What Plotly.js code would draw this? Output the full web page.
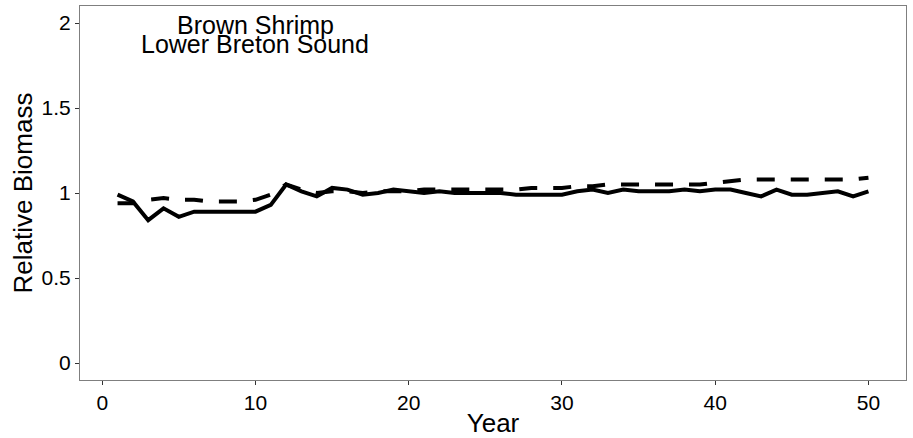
<!DOCTYPE html>
<html>
<head>
<meta charset="utf-8">
<script src="https://cdn.plot.ly/plotly-3.0.1.min.js"></script>
<style>html,body{margin:0;padding:0;background:#fff;}#chart{width:913px;height:438px;}</style>
</head>
<body>
<div id="chart"></div>
<script>
const years = Array.from({length: 50}, (_, i) => i + 1);
const solidValues = [0.99,0.95,0.84,0.91,0.86,0.89,0.89,0.89,0.89,0.89,
  0.93,1.05,1.01,0.98,1.03,1.02,0.99,1.00,1.02,1.01,
  1.00,1.01,1.00,1.00,1.00,1.00,0.99,0.99,0.99,0.99,
  1.01,1.02,1.00,1.02,1.01,1.01,1.01,1.02,1.01,1.02,
  1.02,1.00,0.98,1.02,0.99,0.99,1.00,1.01,0.98,1.01];
const dashedValues = [0.94,0.94,0.96,0.97,0.96,0.96,0.95,0.95,0.95,0.96,
  0.99,1.05,1.02,1.00,1.01,1.01,1.00,1.01,1.01,1.01,
  1.02,1.02,1.02,1.02,1.02,1.02,1.02,1.03,1.03,1.03,
  1.04,1.04,1.05,1.05,1.05,1.05,1.05,1.05,1.05,1.06,
  1.07,1.08,1.08,1.08,1.08,1.08,1.08,1.08,1.08,1.09];
const xTicks = [0,10,20,30,40,50];
const yTicks = [0,0.5,1,1.5,2];
const yTickLabels = ['0','0.5','1','1.5','2'];
const titleLines = ['Brown Shrimp','Lower Breton Sound'];

const font = 'Liberation Sans, Arial, sans-serif';
const traces = [
  {x: years, y: dashedValues, type: 'scatter', mode: 'lines',
   line: {color: '#000', width: 4, dash: '18px,16px'}, hoverinfo: 'skip'},
  {x: years, y: solidValues, type: 'scatter', mode: 'lines',
   line: {color: '#000', width: 4}, hoverinfo: 'skip'}
];
const layout = {
  width: 913, height: 438,
  margin: {l: 80, r: 7, t: 6, b: 58},
  paper_bgcolor: '#fff', plot_bgcolor: '#fff',
  showlegend: false,
  font: {family: font, color: '#000'},
  xaxis: {
    range: [-1.45, 52.45], tickvals: xTicks, ticks: 'outside', ticklen: 4,
    tickcolor: '#333', tickwidth: 1, showgrid: false, zeroline: false,
    showline: true, linecolor: '#7f7f7f', linewidth: 1, mirror: true,
    tickfont: {size: 21, color: '#000', family: font},
    title: {text: 'Year', font: {size: 26, family: font, color: '#000'}, standoff: 2}
  },
  yaxis: {
    range: [-0.1, 2.1], tickvals: yTicks, ticktext: yTickLabels, ticks: 'outside', ticklen: 4,
    tickcolor: '#333', tickwidth: 1, showgrid: false, zeroline: false,
    showline: true, linecolor: '#7f7f7f', linewidth: 1, mirror: true,
    tickfont: {size: 21, color: '#000', family: font},
    title: {text: 'Relative Biomass', font: {size: 26, family: font, color: '#000'}, standoff: 1}
  },
  annotations: [
    {x: 10.0, y: 1.99, xref: 'x', yref: 'y', text: titleLines[0], showarrow: false,
     font: {size: 25, family: font, color: '#000'}, xanchor: 'center', yanchor: 'middle'},
    {x: 10.0, y: 1.875, xref: 'x', yref: 'y', text: titleLines[1], showarrow: false,
     font: {size: 25, family: font, color: '#000'}, xanchor: 'center', yanchor: 'middle'}
  ]
};
Plotly.newPlot('chart', traces, layout, {displayModeBar: false, staticPlot: true});
</script>
</body>
</html>
